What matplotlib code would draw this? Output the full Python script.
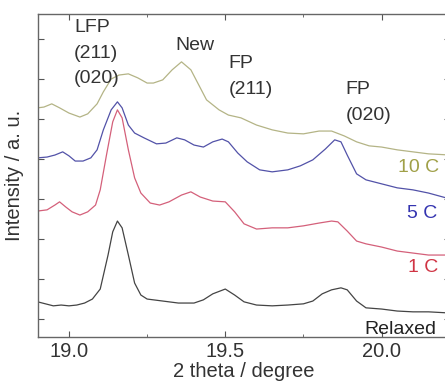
import matplotlib
matplotlib.use("Agg")
import matplotlib.pyplot as plt
from matplotlib.ticker import MultipleLocator, NullFormatter

plt.rcParams['font.family'] = ['Liberation Sans', 'DejaVu Sans']

# 2 theta / intensity readings for each pattern (arbitrary units, stacked)
relaxed_x = [18.90, 18.925, 18.95, 18.975, 19.00, 19.025, 19.05, 19.075, 19.10, 19.125,
             19.14, 19.155, 19.17, 19.19, 19.21, 19.23, 19.25, 19.30, 19.35, 19.40,
             19.43, 19.46, 19.50, 19.53, 19.56, 19.60, 19.65, 19.70, 19.75, 19.78,
             19.81, 19.84, 19.87, 19.89, 19.92, 19.95, 20.00, 20.05, 20.10, 20.15, 20.22]
relaxed_y = [0.43, 0.38, 0.33, 0.35, 0.33, 0.35, 0.40, 0.50, 0.75, 1.60,
             2.18, 2.45, 2.28, 1.60, 0.90, 0.60, 0.50, 0.45, 0.40, 0.40,
             0.48, 0.63, 0.75, 0.60, 0.43, 0.35, 0.33, 0.35, 0.38, 0.45,
             0.63, 0.73, 0.78, 0.73, 0.45, 0.28, 0.25, 0.20, 0.18, 0.18, 0.15]

c1_x = [18.90, 18.93, 18.955, 18.97, 18.99, 19.01, 19.035, 19.06, 19.085, 19.10,
        19.12, 19.14, 19.155, 19.17, 19.19, 19.21, 19.23, 19.26, 19.29, 19.32,
        19.36, 19.39, 19.42, 19.46, 19.50, 19.53, 19.56, 19.60, 19.65, 19.70,
        19.75, 19.80, 19.84, 19.86, 19.89, 19.92, 19.95, 20.00, 20.05, 20.10, 20.15, 20.22]
c1_y = [2.70, 2.73, 2.85, 2.93, 2.80, 2.68, 2.60, 2.68, 2.85, 3.23,
        4.10, 4.93, 5.23, 5.03, 4.23, 3.53, 3.15, 2.90, 2.85, 2.93,
        3.10, 3.18, 3.05, 2.95, 2.93, 2.68, 2.38, 2.25, 2.28, 2.28,
        2.33, 2.40, 2.45, 2.43, 2.20, 1.95, 1.88, 1.80, 1.70, 1.65, 1.60, 1.60]

c5_x = [18.90, 18.93, 18.955, 18.98, 19.00, 19.02, 19.045, 19.07, 19.09, 19.11,
        19.135, 19.155, 19.17, 19.19, 19.21, 19.24, 19.28, 19.31, 19.345, 19.37,
        19.40, 19.43, 19.46, 19.49, 19.51, 19.54, 19.57, 19.61, 19.65, 19.70,
        19.74, 19.78, 19.82, 19.85, 19.87, 19.89, 19.92, 19.95, 20.00, 20.05,
        20.10, 20.15, 20.22]
c5_y = [4.03, 4.05, 4.10, 4.18, 4.08, 3.95, 3.95, 4.03, 4.23, 4.73,
        5.23, 5.43, 5.28, 4.85, 4.65, 4.53, 4.38, 4.40, 4.53, 4.48,
        4.35, 4.30, 4.43, 4.50, 4.43, 4.15, 3.93, 3.73, 3.68, 3.73,
        3.83, 3.98, 4.25, 4.48, 4.43, 4.10, 3.63, 3.48, 3.38, 3.28,
        3.23, 3.15, 3.00]

c10_x = [18.90, 18.92, 18.945, 18.97, 19.00, 19.035, 19.06, 19.09, 19.11, 19.135,
         19.16, 19.19, 19.22, 19.25, 19.27, 19.30, 19.33, 19.36, 19.39, 19.42,
         19.44, 19.48, 19.51, 19.55, 19.60, 19.65, 19.70, 19.75, 19.80, 19.84,
         19.88, 19.92, 19.96, 20.00, 20.05, 20.10, 20.15, 20.22]
c10_y = [5.28, 5.30, 5.38, 5.28, 5.15, 5.05, 5.13, 5.38, 5.68, 6.00,
         6.10, 6.13, 6.03, 5.90, 5.90, 5.98, 6.23, 6.43, 6.23, 5.78,
         5.48, 5.23, 5.10, 5.03, 4.85, 4.73, 4.65, 4.63, 4.70, 4.70,
         4.58, 4.43, 4.33, 4.30, 4.23, 4.18, 4.13, 4.10]

fig = plt.figure(figsize=(4.45, 3.83), dpi=100)
ax = fig.add_axes([0.0847, 0.120, 0.926, 0.8433])

ax.plot(relaxed_x, relaxed_y, color='#444444', lw=0.9)
ax.plot(c1_x, c1_y, color='#d4607a', lw=0.9)
ax.plot(c5_x, c5_y, color='#5252a8', lw=0.9)
ax.plot(c10_x, c10_y, color='#b4b486', lw=0.9)

ax.set_xlim(18.9, 20.218)
ax.set_ylim(-0.45, 7.625)
ax.xaxis.set_major_locator(MultipleLocator(0.5))
ax.xaxis.set_minor_locator(MultipleLocator(0.25))
ax.xaxis.set_major_formatter(plt.FormatStrFormatter('%.1f'))
ax.yaxis.set_major_locator(MultipleLocator(1))
ax.yaxis.set_major_formatter(NullFormatter())
ax.tick_params(which='both', direction='in', top=True, right=True,
               colors='#555555', labelcolor='#333333', labelsize=14.5)
ax.tick_params(which='major', length=4)
ax.tick_params(which='minor', length=2)
for s in ax.spines.values():
    s.set_color('#666666')
    s.set_linewidth(1.0)

ax.set_xlabel('2 theta / degree', fontsize=14.5, color='#333333', labelpad=1)
ax.set_ylabel('Intensity / a. u.', fontsize=14.5, color='#333333', labelpad=6)

tc = '#333333'
fs = 14
ax.text(19.016, 7.30, 'LFP', fontsize=fs, color=tc, va='center')
ax.text(19.016, 6.65, '(211)', fontsize=fs, color=tc, va='center')
ax.text(19.016, 6.02, '(020)', fontsize=fs, color=tc, va='center')
ax.text(19.34, 6.85, 'New', fontsize=fs, color=tc, va='center')
ax.text(19.51, 6.40, 'FP', fontsize=fs, color=tc, va='center')
ax.text(19.51, 5.73, '(211)', fontsize=fs, color=tc, va='center')
ax.text(19.885, 5.75, 'FP', fontsize=fs, color=tc, va='center')
ax.text(19.885, 5.08, '(020)', fontsize=fs, color=tc, va='center')

ax.text(20.052, 3.80, '10 C', fontsize=fs, color='#a0a048', va='center', clip_on=False)
ax.text(20.080, 2.65, '5 C', fontsize=fs, color='#3434b0', va='center', clip_on=False)
ax.text(20.086, 1.30, '1 C', fontsize=fs, color='#d03444', va='center', clip_on=False)
ax.text(19.945, -0.25, 'Relaxed', fontsize=fs, color='#222222', va='center', clip_on=False)

fig.savefig('out.png', dpi=100)
